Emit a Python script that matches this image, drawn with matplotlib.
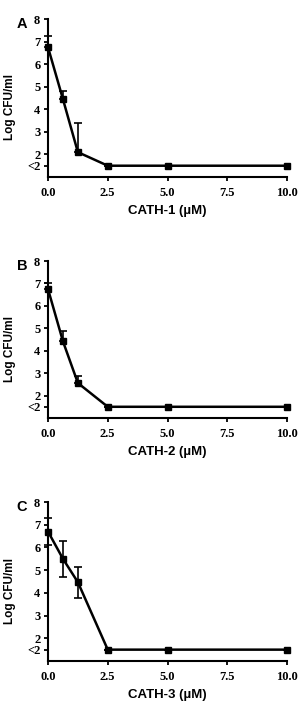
import numpy as np
import matplotlib.pyplot as plt

# concentration (uM) and log CFU/ml per peptide, "<2" plotted at 1.5
conc = [0, 0.625, 1.25, 2.5, 5, 10]
names = ["CATH-1", "CATH-2", "CATH-3"]
letters = ["A", "B", "C"]

cath1 = [6.75, 4.45, 2.1, 1.5, 1.5, 1.5]
cath1_up = [0.5, 0.35, 1.3, 0, 0, 0]
cath1_lo = [0, 0, 0, 0, 0, 0]

cath2 = [6.75, 4.42, 2.56, 1.5, 1.5, 1.5]
cath2_up = [0.25, 0.44, 0.3, 0, 0, 0]
cath2_lo = [0, 0, 0, 0, 0, 0]

cath3 = [6.7, 5.5, 4.47, 1.5, 1.5, 1.5]
cath3_up = [0.6, 0.8, 0.68, 0, 0, 0]
cath3_lo = [0.6, 0.8, 0.68, 0, 0, 0]

yticks = [1.5, 2, 3, 4, 5, 6, 7, 8]
ytick_labels = ["<2", "2", "3", "4", "5", "6", "7", "8"]
xticks = [0, 2.5, 5, 7.5, 10]
xtick_labels = ["0.0", "2.5", "5.0", "7.5", "10.0"]

series = [(cath1, cath1_lo, cath1_up), (cath2, cath2_lo, cath2_up), (cath3, cath3_lo, cath3_up)]

fig = plt.figure(figsize=(3.01, 7.04), dpi=100)
W, H = 301, 704
# (top, bottom) of each panel in pixels
boxes = [(19, 177), (261, 418), (502, 661)]
left, right = 48, 287

for i in range(3):
    top, bot = boxes[i]
    ax = fig.add_axes([left / W, 1 - bot / H, (right - left) / W, (bot - top) / H])
    y, lo, up = series[i]
    ax.errorbar(conc, y, yerr=[lo, up], color="black", lw=1.8, marker="s", ms=4.5,
                capsize=3, elinewidth=1.2, capthick=1.2, clip_on=False, zorder=3)
    ax.set_xlim(0, 10)
    ax.set_ylim(1, 8)
    ax.spines["top"].set_visible(False)
    ax.spines["right"].set_visible(False)
    ax.spines["left"].set_linewidth(1.5)
    ax.spines["bottom"].set_linewidth(1.5)
    ax.set_yticks(yticks)
    ax.set_yticklabels(ytick_labels, family="Liberation Serif", fontweight="bold", fontsize=9)
    ax.set_xticks(xticks)
    ax.set_xticklabels(xtick_labels, family="Liberation Serif", fontweight="bold", fontsize=9)
    ax.tick_params(direction="out", length=3, width=1.3, pad=2.5)
    ax.tick_params(axis="x", pad=4.5)
    ax.set_xlabel(names[i] + " (µM)", family="Liberation Sans", fontweight="bold", fontsize=9.5, labelpad=4)
    ax.set_ylabel("Log CFU/ml", family="Liberation Sans", fontweight="bold", fontsize=8.5)
    ax.yaxis.set_label_coords(-32 / (right - left), 0.44)
    fig.text(22 / W, 1 - (top + 5) / H, letters[i], family="Liberation Sans", fontweight="bold",
             fontsize=10.5, ha="center", va="center")

fig.savefig("out.png", dpi=100)
